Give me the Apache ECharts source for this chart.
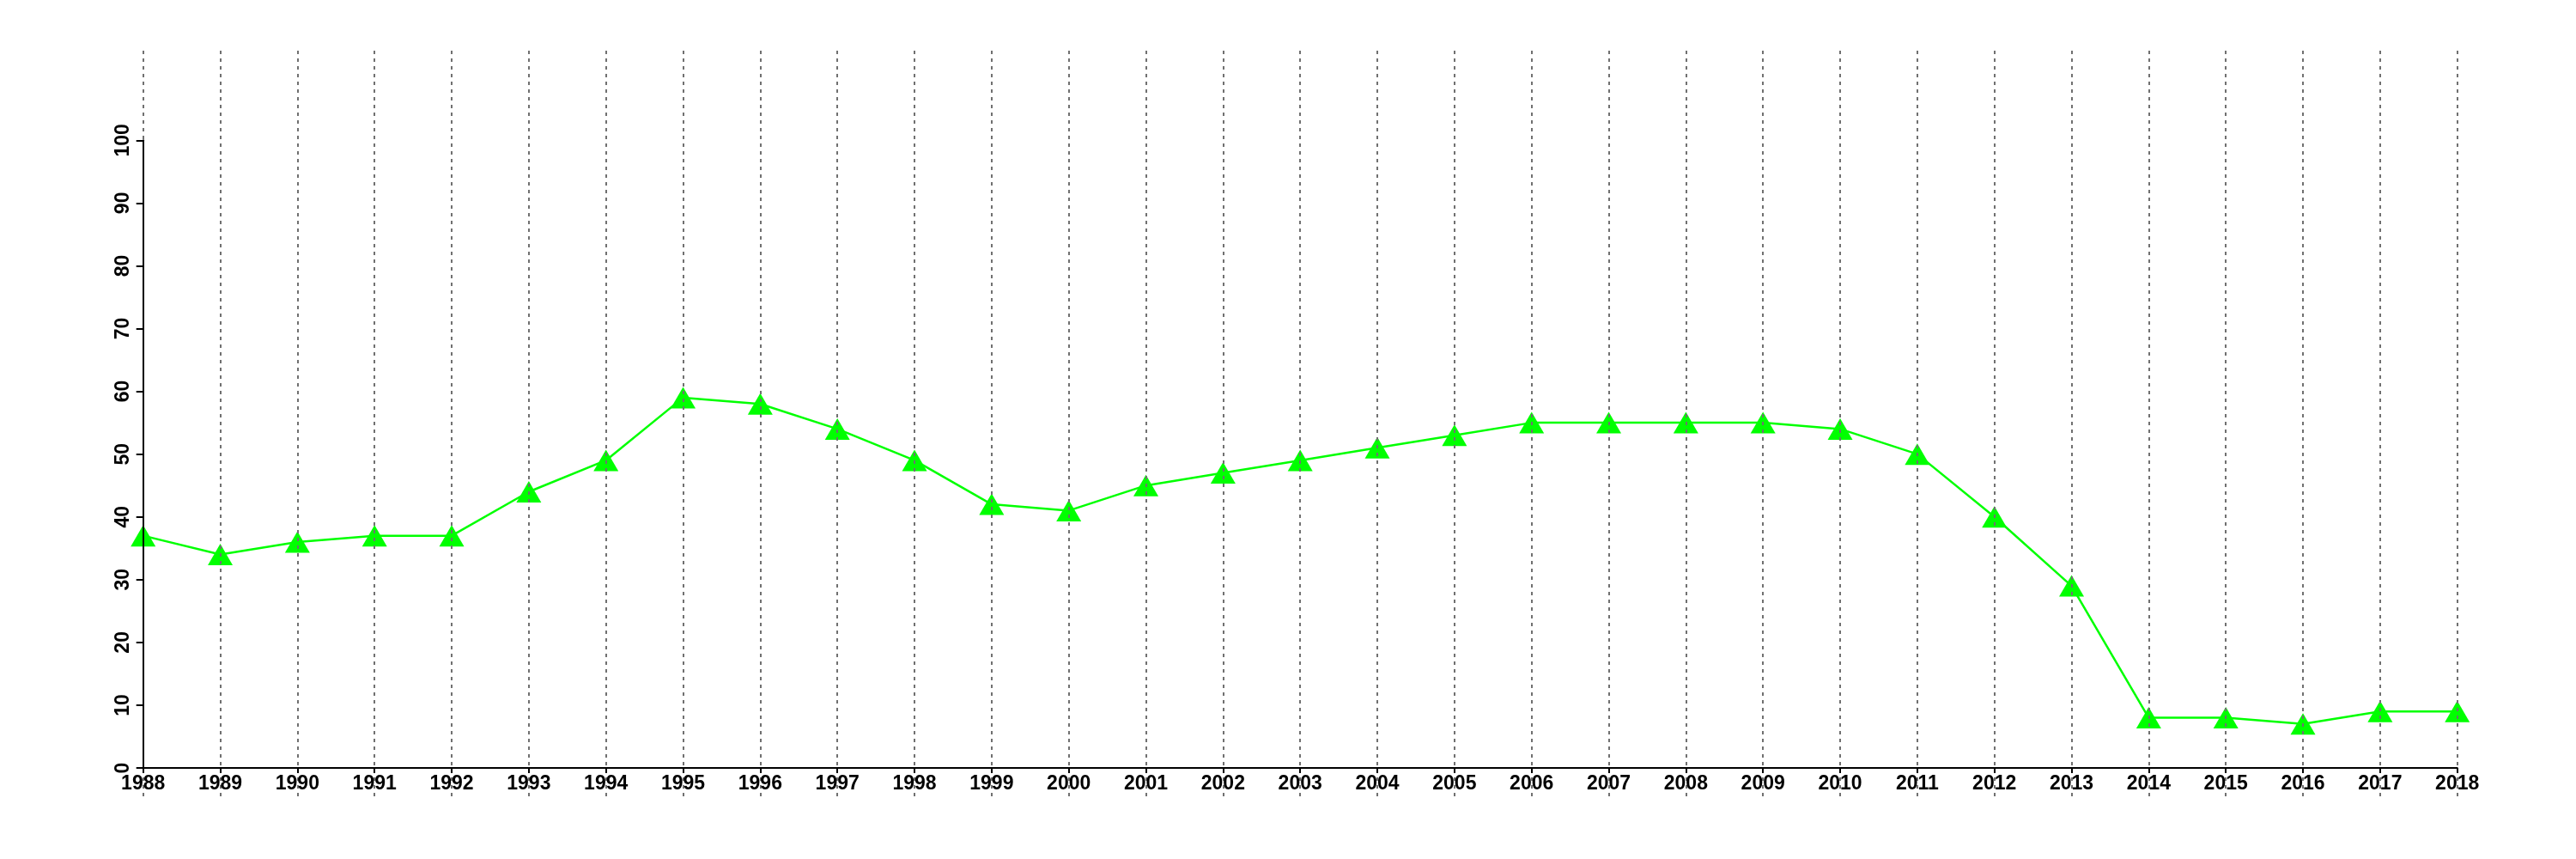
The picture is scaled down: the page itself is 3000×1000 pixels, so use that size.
<!DOCTYPE html>
<html>
<head>
<meta charset="utf-8">
<script src="https://cdn.jsdelivr.net/npm/echarts@6/dist/echarts.min.js"></script>
<style>html,body{margin:0;padding:0;background:#fff}#c{width:3000px;height:1000px}</style>
</head>
<body>
<div id="c"></div>
<script>
const years = ['1988','1989','1990','1991','1992','1993','1994','1995','1996','1997','1998','1999','2000','2001','2002','2003','2004','2005','2006','2007','2008','2009','2010','2011','2012','2013','2014','2015','2016','2017','2018'];
const values = [37,34,36,37,37,44,49,59,58,54,49,42,41,45,47,49,51,53,55,55,55,55,54,50,40,29,8,8,7,9,9];
const yTicks = [0,10,20,30,40,50,60,70,80,90,100];

const font = {fontFamily:'Liberation Sans', fontWeight:'bold', fontSize:23, color:'#000'};
const chart = echarts.init(document.getElementById('c'), null, {renderer:'canvas'});
chart.setOption({
  animation:false,
  backgroundColor:'#fff',
  grid:[
    {left:166.7, right:138.3, top:163.3, bottom:106},
    {left:166.7, right:138.3, top:59, bottom:73}
  ],
  xAxis:[
    {type:'category', gridIndex:0, data:years, boundaryGap:false, z:20,
     axisLine:{lineStyle:{color:'#000', width:2}},
     axisTick:{show:true, length:6, lineStyle:{color:'#000', width:2}, alignWithLabel:true},
     axisLabel:Object.assign({margin:7, interval:0}, font),
     splitLine:{show:false}},
    {type:'category', gridIndex:1, data:years, boundaryGap:false, z:10,
     axisLine:{show:false}, axisTick:{show:false}, axisLabel:{show:false},
     splitLine:{show:true, interval:0, lineStyle:{color:'#707070', width:2, type:[4,5]}}}
  ],
  yAxis:[
    {type:'value', gridIndex:0, min:yTicks[0], max:yTicks[yTicks.length-1], interval:10, z:20,
     axisLine:{show:true, lineStyle:{color:'#000', width:2}},
     axisTick:{show:true, length:8, lineStyle:{color:'#000', width:2}},
     axisLabel:Object.assign({rotate:90, margin:12}, font),
     splitLine:{show:false}},
    {type:'value', gridIndex:1, min:0, max:1, show:false, splitLine:{show:false}}
  ],
  series:[{
    type:'line', xAxisIndex:0, yAxisIndex:0, data:values,
    symbol:'triangle', symbolSize:[29,25],
    lineStyle:{color:'#00ff00', width:2.5},
    itemStyle:{color:'#00ff00'},
    clip:false
  }]
});
</script>
</body>
</html>
